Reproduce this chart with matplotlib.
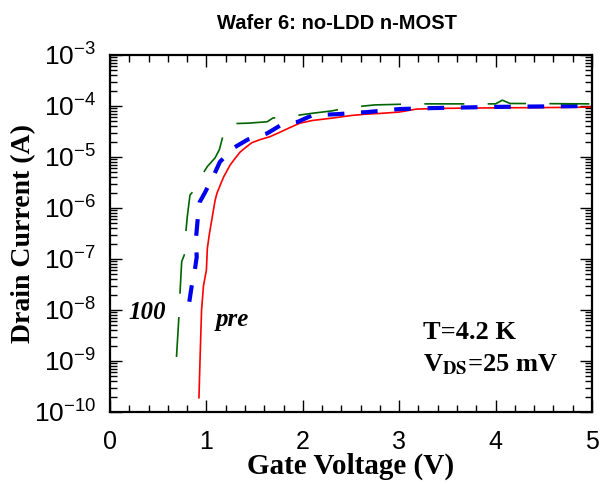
import numpy as np
import matplotlib
matplotlib.use('Agg')
from matplotlib import pyplot as plt
from matplotlib.ticker import LogLocator, MultipleLocator, NullFormatter

# pre-stress curve (red, solid)
v_pre = [0.923, 0.935, 0.95, 0.97, 1.0, 1.01, 1.03, 1.055, 1.09, 1.11, 1.15, 1.18, 1.21, 1.245,
         1.3, 1.35, 1.41, 1.47, 1.56, 1.66, 1.77, 1.87, 1.97, 2.1, 2.31, 2.5, 2.65, 2.83, 3.0,
         3.18, 3.5, 4.0, 4.5, 5.0]
i_pre = [1.9e-10, 1.2e-9, 1e-8, 3e-8, 6e-8, 1.6e-7, 3e-7, 5.7e-7, 1.4e-6, 1.95e-6, 3e-6, 4.1e-6,
         5.2e-6, 6.9e-6, 9.5e-6, 1.25e-5, 1.55e-5, 1.9e-5, 2.2e-5, 2.5e-5, 3.1e-5, 3.8e-5, 4.6e-5,
         5.2e-5, 5.8e-5, 6.5e-5, 6.9e-5, 7.2e-5, 7.6e-5, 8.7e-5, 9e-5, 9.2e-5, 9.3e-5, 9.5e-5]

# intermediate stress (blue, thick dashes)
v_mid = [0.823, 0.847, 0.88, 0.9, 0.89, 0.905, 0.92, 0.93, 0.985, 1.07, 1.14, 1.28, 1.43, 1.63,
         1.78, 1.95, 2.1, 2.35, 2.67, 3.0, 3.35, 4.0, 4.5, 5.0]
i_mid = [1.45e-8, 2.9e-8, 6e-8, 1.1e-7, 2.3e-7, 4.7e-7, 1e-6, 1.3e-6, 2e-6, 4.1e-6, 8e-6, 1.5e-5,
         2.2e-5, 2.9e-5, 4.3e-5, 4.9e-5, 6.6e-5, 6.9e-5, 7.6e-5, 8.7e-5, 9.1e-5, 9.6e-5, 9.8e-5,
         1e-4]

# 100 stress (green, long dashes)
v_100 = [0.69, 0.715, 0.726, 0.744, 0.778, 0.788, 0.802, 0.83, 0.88, 0.94, 1.01, 1.09, 1.135,
         1.17, 1.19, 1.25, 1.43, 1.63, 1.69, 1.85, 2.1, 2.3, 2.49, 2.75, 3.18, 3.8, 4.0, 4.07,
         4.15, 5.0]
i_100 = [1.2e-9, 7.4e-9, 2.1e-8, 8.9e-8, 1.3e-7, 3.5e-7, 6.8e-7, 1.8e-6, 2.3e-6, 4e-6, 6.5e-6,
         9.6e-6, 1.4e-5, 2.5e-5, 3.9e-5, 4.5e-5, 4.6e-5, 4.9e-5, 5.8e-5, 6.2e-5, 7.2e-5, 8e-5,
         9.4e-5, 1.05e-4, 1.1e-4, 1.1e-4, 1.1e-4, 1.3e-4, 1.12e-4, 1.1e-4]

plt.rcParams['font.family'] = ['Liberation Sans', 'DejaVu Sans']
plt.rcParams['mathtext.fontset'] = 'custom'
plt.rcParams['mathtext.rm'] = 'Liberation Sans'

fig = plt.figure(figsize=(6.12, 4.84), dpi=100)
ax = fig.add_axes([0.1797, 0.1488, 0.7876, 0.7376])

ax.plot(v_pre, i_pre, color='#ff0000', lw=1.2)
ax.plot(v_mid, i_mid, color='#0000ee', lw=3.0, linestyle=(0, (4, 4)))
ax.plot(v_100, i_100, color='#006400', lw=1.2, linestyle=(0, (24, 14)))

ax.set_yscale('log')
ax.set_xlim(0, 5)
ax.set_ylim(1e-10, 1e-3)
ax.xaxis.set_major_locator(MultipleLocator(1))
ax.xaxis.set_minor_locator(MultipleLocator(0.2))
ax.yaxis.set_major_locator(LogLocator(base=10, numticks=20))
ax.yaxis.set_minor_locator(LogLocator(base=10, subs=np.arange(2, 10), numticks=20))
ax.yaxis.set_minor_formatter(NullFormatter())

ax.tick_params(which='both', direction='in', top=True, right=True, width=1.0)
ax.tick_params(which='major', length=8.5)
ax.tick_params(which='minor', length=5)
ax.tick_params(axis='x', pad=13, labelsize=18)
ax.tick_params(axis='y', pad=10, labelsize=19)
for s in ax.spines.values():
    s.set_linewidth(1.6)

serif = ['Liberation Serif', 'DejaVu Serif']
ax.set_xlabel('Gate Voltage (V)', family=serif, fontweight='bold', fontsize=21, labelpad=-1)
ax.set_ylabel('Drain Current (A)', family=serif, fontweight='bold', fontsize=20, labelpad=-2)

fig.text(0.55, 0.952, 'Wafer 6: no-LDD n-MOST', ha='center', va='center', fontsize=14.5,
         fontweight='bold')

ax.text(0.39, 9e-9, '100', family=serif, fontweight='bold', style='italic', fontsize=18,
        ha='center', va='center')
ax.text(1.27, 6.5e-9, 'pre', family=serif, fontweight='bold', style='italic', fontsize=18,
        ha='center', va='center')
ax.text(3.25, 3.6e-9, 'T=4.2 K', family=serif, fontweight='bold', fontsize=19,
        ha='left', va='center')
ax.text(3.25, 8.5e-10, r'V$_{\mathbf{DS}}$=25 mV', family=serif, fontweight='bold', fontsize=19,
        ha='left', va='center', math_fontfamily='stix')

fig.savefig('out.png', dpi=100)
